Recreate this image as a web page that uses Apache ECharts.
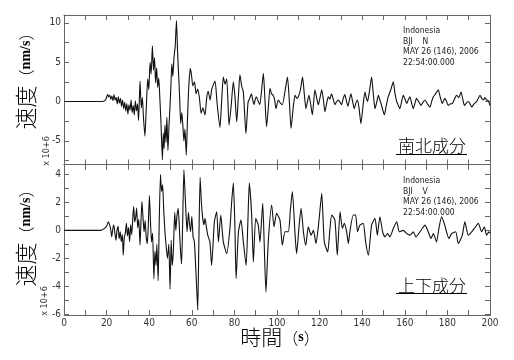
<!DOCTYPE html>
<html>
<head>
<meta charset="utf-8">
<script src="https://cdn.jsdelivr.net/npm/echarts@6/dist/echarts.min.js"></script>
<style>
html,body{margin:0;padding:0;background:#fff;}
#c{width:514px;height:360px;}
</style>
</head>
<body>
<div id="c"></div>
<script>
// ---- Data ----
const timesN = [0,10,17,18.5,19.5,20.5,21,21.5,22,22.5,23,23.5,24,24.5,25,25.5,26,26.5,27,27.5,28,28.5,29,29.5,30,30.5,31,31.5,32,32.5,33,33.5,34,34.5,35,35.7,36.3,36.8,37.3,38,38.6,39.3,39.8,40.4,40.9,41.5,42,42.5,43,43.5,44,44.5,45,45.5,46.2,46.6,47,47.4,47.9,48.3,48.8,49.3,49.7,50.2,50.6,51.1,51.6,52.2,52.8,53.3,53.8,54.3,54.8,55.3,55.8,56.3,56.8,57.4,58,58.6,59.3,59.8,60.5,61.3,62,62.8,63.6,64.4,65.2,66.2,67,67.7,68.6,69.4,70.9,71.8,73.2,74.1,74.8,75.6,76.4,77.5,78.5,79.5,80.3,81.1,81.9,82.6,83.4,84.2,84.8,85.4,86.4,87.2,88,88.6,89.2,89.8,90.3,91.1,91.9,92.8,93.6,94.3,95.1,96,96.7,97.4,98.2,98.9,99.5,100.6,101.6,102.5,103.7,104.9,105.8,106.6,107.6,108.5,109.3,110,111,112,112.8,113.6,114.3,115,115.8,116.6,117.8,118.6,119.4,120.2,121,121.8,122.5,123.3,124.1,124.8,125.6,126.4,127.2,128,128.8,129.6,130.3,131,131.8,132.5,133.3,134,134.7,135.5,136.3,137,137.8,138.6,139.4,140.4,141.3,142,142.5,143.5,144.4,145.2,146,146.8,147.6,148.3,149.1,149.8,150.4,151.3,152.2,153.4,154.6,155.4,156.2,157,157.7,158.5,159.3,160.1,160.9,161.6,162.4,163.2,164,164.8,165.5,166.5,167.6,168.5,169.5,170.6,171.8,172.6,173.4,174.5,175.7,176.6,177.6,178.2,178.8,179.6,180.4,181.3,182.3,183.3,184.3,185.3,186.4,187.2,188,188.9,189.8,190.6,191.4,192.5,193.7,194.5,195.3,196.1,196.9,197.6,198.4,199.2,200];
const valuesN = [0,0,0,0.05,0.2,0.9,0.6,0.8,0.3,0.7,0.1,0.9,0.2,0.5,-0.3,0.6,-0.2,0.4,-0.6,0.2,-0.9,-0.1,-1.2,-0.3,-1.6,-0.4,-1.1,0.2,-1.4,-0.5,-1.7,0.1,-1.2,-0.3,-2.4,2.6,-0.8,0.5,-2.0,-4.4,-1.0,2.9,1.5,5.0,3.5,7.1,4.0,5.6,2.4,4.3,1.8,3.0,0.4,-2.5,-7.4,-4.0,-6.0,-3.0,-5.2,-2.0,-6.2,-3.0,-1.0,2.0,4.8,3.2,5.5,7.0,10.3,6.5,3.5,0.5,-2.8,-1.4,-3.0,-5.0,-3.5,-6.8,-2.0,2.0,4.2,3.5,2.0,2.5,1.0,1.6,0.4,-1.5,-0.8,-1.7,0.5,1.3,0.2,1.6,2.6,0.0,-3.3,0.5,3.1,2.2,2.9,-3.0,-0.5,2.5,0.5,-2.6,0.8,3.4,2.0,1.2,-1.5,-4.1,-0.1,0.4,1.0,0.2,-0.4,0.3,0.6,0.1,-0.4,1.5,3.6,0.5,-3.2,-0.5,1.7,1.0,0.8,0.2,-0.9,0.2,-0.2,-0.4,1.2,3.1,0.0,-3.4,-0.8,0.8,0.4,0.6,1.5,3.1,1.0,-0.9,0.0,0.8,-0.3,-1.7,1.5,0.5,-0.4,0.5,1.5,0.2,-1.3,-0.2,0.6,0.3,1.0,0.3,-0.4,0.0,0.2,-0.1,-0.4,0.3,0.9,0.2,-0.6,0.2,1.0,0.0,-0.9,-0.2,0.2,-1.0,-2.8,-0.5,1.2,0.4,0.0,1.5,3.1,1.0,-0.9,-0.1,0.8,0.2,-0.5,-1.2,-1.7,-0.5,0.6,1.5,2.5,1.0,0.0,-0.5,-0.9,0.0,0.8,0.3,-0.25,0.2,0.6,-0.2,-0.9,-0.2,0.4,0.0,-0.5,-0.1,0.2,-0.3,-0.7,0.0,0.6,1.0,1.5,0.6,-0.25,0.1,0.4,0.0,-0.5,-0.3,-0.25,0.3,0.8,0.5,1.2,0.3,-0.5,-0.2,0.0,-0.3,-0.7,-0.3,0.0,0.4,0.8,0.4,0.2,0.5,0.2,0.1,-0.5];

const timesV = [0,10,17,18,19,20,20.8,21.4,21.9,22.4,22.9,23.4,23.9,24.4,24.9,25.4,25.9,26.4,26.9,27.4,27.8,28.3,28.8,29.3,29.8,30.3,30.8,31.3,31.8,32.3,32.7,33.2,33.7,34.1,34.6,35.1,35.7,36.1,36.6,37.1,37.6,38.1,38.6,39.1,39.6,40.1,40.6,41.1,41.6,42.2,42.7,43.2,43.6,44.2,44.7,45.3,45.8,46.3,46.8,47.4,48,48.6,49.2,49.8,50.3,50.8,51.3,52,52.5,53,53.6,54.1,54.6,55.2,55.7,56.3,56.8,57.3,57.8,58.4,58.9,59.4,60,60.6,61.2,61.8,62.4,62.8,63.3,63.9,64.5,65.1,65.7,66.2,66.9,67.5,68.5,69.3,70.6,71.7,72.5,73.6,74.8,76.4,77.9,78.7,79.5,80.2,80.8,81.9,83.1,84.2,85.5,86.3,87,88.1,88.9,90,91.2,92,93.3,94,94.8,95.9,97.5,98.6,99.8,101.4,102.5,103.8,105.3,106.3,107.2,108.5,109.2,110.3,111.3,112.4,113.5,114.7,116,117.1,118.3,119.4,120.2,121,122.2,123.8,124.8,125.7,127.2,128.3,129.6,130.7,131.6,132.7,133.5,134.2,135.8,136.9,137.8,138.9,140.5,141.6,142.9,144.4,146,147.1,148.3,149.6,150.7,151.9,153,154.6,156.2,157.4,159.3,160.9,162.4,164,165.2,166.6,168.2,169.5,171,172.3,173.4,174.9,176,177.3,178.5,179.6,180.7,182,183.9,185.1,187,188.2,189.8,191.4,193.2,194.5,196.1,197.3,198.4,199.5,200];
const valuesV = [0,0,0,0.05,0.15,0.3,0.62,0.4,0.1,-0.45,0.1,0.38,-0.2,-0.7,0.0,0.3,-0.6,-0.1,-0.8,-0.3,-1.77,-0.5,-0.2,0.5,-0.4,0.2,-0.8,0.4,-0.3,0.9,1.7,0.6,1.0,1.6,0.2,0.8,-1.05,0.5,2.06,0.9,-0.1,0.7,-0.5,-0.94,0.5,2.5,0.6,-0.82,-0.2,-3.45,-1.5,-2.5,-1.0,-3.6,0.5,4.0,2.78,3.26,1.5,-0.1,-1.2,-2.0,-1.0,-4.2,-0.7,-2.5,-1.6,1.3,0.0,1.0,1.58,0.4,-1.2,-2.4,0.5,4.34,2.8,1.1,-0.1,1.3,0.5,-0.1,1.0,-0.45,-0.8,-2.5,-4.5,-5.7,-1.0,3.8,2.0,0.9,0.4,0.86,0.2,-0.34,-0.82,-2.5,0.62,1.34,-0.82,1.1,-0.82,-1.66,0.14,2.0,3.38,0.5,-3.45,-0.1,0.74,-0.82,-2.5,0.5,3.38,1.1,-2.26,0.86,0.38,-0.82,1.94,-1.0,-4.41,-0.82,1.82,0.26,1.22,0.74,-1.06,-0.1,-0.1,1.5,2.78,-0.34,-1.66,0.2,1.58,-0.1,-1.06,0.26,-0.34,0,-0.94,0.26,1.5,2.66,-0.82,-1.54,0.0,1.1,0.74,-1.78,1.34,0.14,0.5,-0.1,-0.94,-0.1,1.1,1.1,-0.1,0.38,0.5,-0.82,-1.78,0.38,0.86,-0.34,0.98,-0.1,-0.46,-0.22,-0.46,0.14,0.62,-0.1,0,-0.22,-0.34,-0.1,-0.46,-0.22,0.14,0.38,-0.1,-0.58,-0.22,-0.82,0.14,0.98,0.5,-0.1,-0.58,-0.22,-0.1,-0.94,-0.34,0.62,-0.34,-0.1,0.26,0.5,-0.1,0.26,-0.34,-0.1,-0.2];

const xTicks = [0,20,40,60,80,100,120,140,160,180,200];
const yTicksN = [-5,0,5,10];
const yMinorN = [-7.5,-5,-2.5,0,2.5,5,7.5,10];
const yTicksV = [-6,-4,-2,0,2,4];
const yMinorV = [-6,-5,-4,-3,-2,-1,0,1,2,3,4];

const infoN = ['Indonesia','BJI    N','MAY 26 (146), 2006','22:54:00.000'];
const infoV = ['Indonesia','BJI    V','MAY 26 (146), 2006','22:54:00.000'];

// ---- Chart ----
const chart = echarts.init(document.getElementById('c'), null, {renderer:'canvas'});
const AX = '#666';
const LBL = {color:'#333', fontSize:10, fontFamily:'"Liberation Sans Narrow","DejaVu Sans Condensed",sans-serif'};
const CJK = '"Noto Sans CJK JP","Noto Sans CJK SC",sans-serif';

function xAx(grid, pos, labels){
  return {type:'value', gridIndex:grid, position:pos, min:0, max:200, interval:10,
    axisLine:{show:true, onZero:false, lineStyle:{color:AX, width:1}},
    axisTick:{show:true, inside:true, length:5, lineStyle:{color:AX}},
    axisLabel: labels ? Object.assign({show:true, margin:3, customValues:xTicks}, LBL) : {show:false},
    splitLine:{show:false}};
}
function yAx(grid, pos, min, max, minor, major, labels){
  return {type:'value', gridIndex:grid, position:pos, min:min, max:max,
    axisLine:{show:true, onZero:false, lineStyle:{color:AX, width:1}},
    axisTick:{show:true, inside:true, length:5, customValues:minor, lineStyle:{color:AX}},
    axisLabel: labels ? Object.assign({show:true, margin:3, customValues:major}, LBL) : {show:false},
    splitLine:{show:false}};
}

const dataN = timesN.map((t,i)=>[t, valuesN[i]]);
const dataV = timesV.map((t,i)=>[t, valuesV[i]]);

function infoText(lines, y0){
  return lines.map((s,i)=>({type:'text', x:403, y:y0 + i*10.4, scaleX:0.95,
    style:{text:s, fill:'#222', font:'9px "Liberation Sans Narrow","DejaVu Sans Condensed",sans-serif', textAlign:'left', textVerticalAlign:'middle'}}));
}
function yName(cy){
  return {type:'text', x:26, y:cy, rotation:Math.PI/2,
    style:{text:'{a|速度}{p|（}{b|nm/s}{p|）}', textAlign:'center', textVerticalAlign:'middle',
      rich:{a:{fontSize:22, fontWeight:300, fontFamily:CJK, fill:'#000'},
            p:{fontSize:16, fontWeight:300, fontFamily:CJK, fill:'#000'},
            b:{fontSize:14, fontWeight:'bold', fontFamily:'"Liberation Serif",serif', fill:'#000'}}}};
}
function expo(cx, cy){
  return {type:'text', x:cx, y:cy, rotation:Math.PI/2,
    style:{text:'x 10+6', fill:'#333', font:'9px "Liberation Sans Narrow","DejaVu Sans Condensed",sans-serif', textAlign:'center', textVerticalAlign:'middle'}};
}
function tag(text, cy, uy){
  return [
    {type:'text', x:432, y:cy, style:{text:text, fill:'#000', font:'300 17px '+CJK, textAlign:'center', textVerticalAlign:'middle'}},
    {type:'line', shape:{x1:396, y1:uy, x2:467, y2:uy}, style:{stroke:'#000', lineWidth:1}}
  ];
}

chart.setOption({
  animation:false,
  backgroundColor:'#fff',
  grid:[
    {left:64, top:15, width:426, height:149.5},
    {left:64, top:164.7, width:426, height:150.3}
  ],
  xAxis:[xAx(0,'bottom',false), xAx(0,'top',false), xAx(1,'bottom',true), xAx(1,'top',false)],
  yAxis:[
    yAx(0,'left',-8,11,yMinorN,yTicksN,true), yAx(0,'right',-8,11,yMinorN,yTicksN,false),
    yAx(1,'left',-6.05,4.7,yMinorV,yTicksV,true), yAx(1,'right',-6.05,4.7,yMinorV,yTicksV,false)
  ],
  series:[
    {type:'line', xAxisIndex:0, yAxisIndex:0, data:dataN, showSymbol:false, smooth:0.2,
      lineStyle:{color:'#111', width:1.1}, clip:true},
    {type:'line', xAxisIndex:2, yAxisIndex:2, data:dataV, showSymbol:false, smooth:0.2,
      lineStyle:{color:'#111', width:1.1}, clip:true}
  ],
  graphic:[].concat(
    infoText(infoN, 31),
    infoText(infoV, 181),
    [yName(77), yName(234), expo(47,151), expo(45,301)],
    tag('南北成分', 146, 154.5),
    tag('上下成分', 286, 293.5),
    [{type:'text', x:280, y:337.5, style:{text:'{a|時間}{p|（}{b|s}{p|）}', textAlign:'center', textVerticalAlign:'middle',
      rich:{a:{fontSize:21, fontWeight:300, fontFamily:CJK, fill:'#000'},
            p:{fontSize:16, fontWeight:300, fontFamily:CJK, fill:'#000'},
            b:{fontSize:14, fontWeight:'bold', fontFamily:'"Liberation Serif",serif', fill:'#000'}}}}]
  )
});
</script>
</body>
</html>
